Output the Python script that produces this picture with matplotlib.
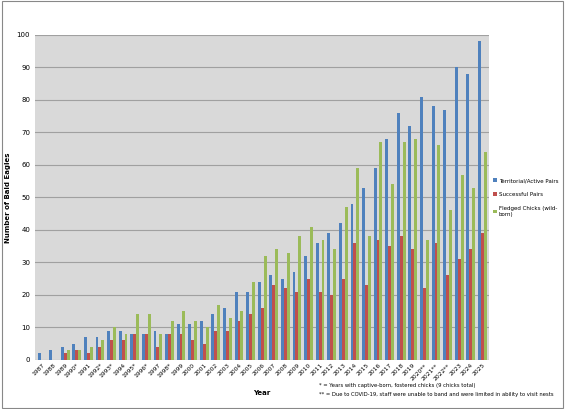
import matplotlib
matplotlib.use("Agg")
import matplotlib.pyplot as plt
import numpy as np

years = ["1987","1988","1989","1990*","1991","1992*","1993*","1994","1995*","1996*","1997","1998*","1999","2000","2001","2002","2003","2004","2005","2006","2007","2008","2009","2010","2011","2012","2013","2014","2015","2016","2017","2018","2019","2020**","2021**","2022**","2023","2024","2025"]
territorial = [2,3,4,5,7,7,9,9,8,8,9,8,11,11,12,14,16,21,21,24,26,25,27,32,36,39,42,48,53,59,68,76,72,81,78,77,90,88,98]
successful = [0,0,2,3,2,4,6,6,8,8,4,8,8,6,5,9,9,12,14,16,23,22,21,25,21,20,25,36,23,37,35,38,34,22,36,26,31,34,39]
fledged = [0,0,3,3,4,6,10,8,14,14,8,12,15,12,10,17,13,15,24,32,34,33,38,41,37,34,47,59,38,67,54,67,68,37,66,46,57,53,64]

fig = plt.figure(figsize=(5.65,4.09), dpi=100)
ax = fig.add_axes([0.062, 0.12, 0.804, 0.795])
ax.set_facecolor("#d9d9d9")
x = np.arange(len(years))
w = 0.25
ax.bar(x-w, territorial, w, color="#4f81bd", label="Territorial/Active Pairs")
ax.bar(x, successful, w, color="#c0504d", label="Successful Pairs")
ax.bar(x+w, fledged, w, color="#9bbb59", label="Fledged Chicks (wild-\nborn)")
ax.set_ylim(0,100)
ax.set_xlim(-0.6, len(years)-0.4)
ax.set_yticks(range(0,101,10))
ax.yaxis.grid(True, color="#a0a0a0", linewidth=0.8)
ax.set_axisbelow(True)
ax.set_xticks(x)
ax.set_xticklabels(years, rotation=45, fontsize=4.3, ha="right", rotation_mode="anchor")
ax.tick_params(axis="y", labelsize=5, length=0)
ax.tick_params(axis="x", length=0, pad=2)
for s in ax.spines.values():
    s.set_visible(False)
ax.set_ylabel("Number of Bald Eagles", fontsize=5, fontweight="bold")
ax.set_xlabel("Year", fontsize=5, fontweight="bold", labelpad=6)
ax.legend(loc="center left", bbox_to_anchor=(1.0, 0.5), fontsize=4.0, frameon=False,
          handlelength=0.6, handleheight=0.6, handletextpad=0.4, labelspacing=1.6, borderaxespad=0.3)
fig.text(0.565, 0.055, "* = Years with captive-born, fostered chicks (9 chicks total)", fontsize=3.8)
fig.text(0.565, 0.032, "** = Due to COVID-19, staff were unable to band and were limited in ability to visit nests", fontsize=3.8)
fig.patches.append(plt.Rectangle((0.003,0.003),0.994,0.994, transform=fig.transFigure, fill=False, edgecolor="#888888", linewidth=0.8))
fig.savefig("out.png", dpi=100)
